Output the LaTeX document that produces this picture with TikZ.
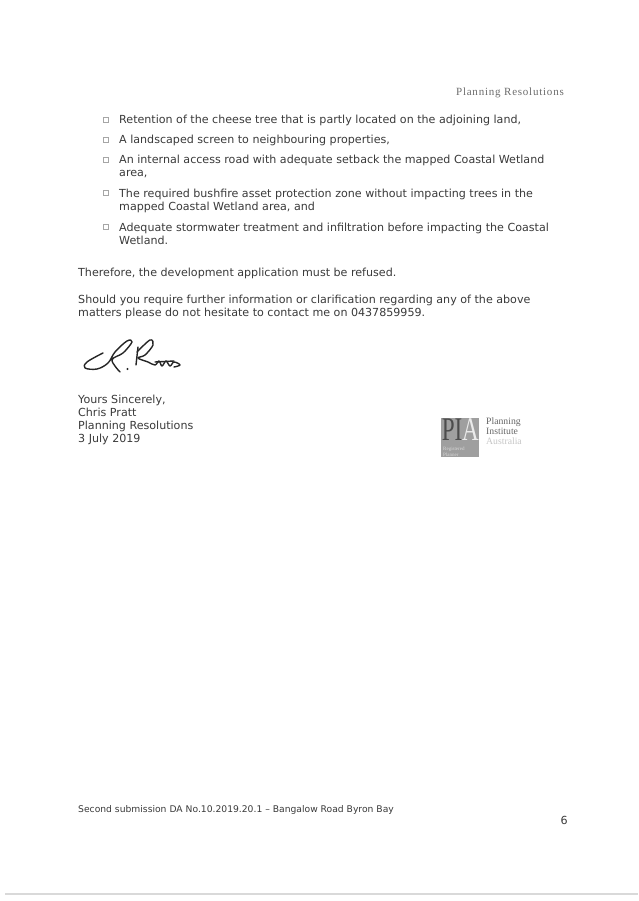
\documentclass[tikz,border=0pt]{standalone}
\usepackage{fontspec}
\setmainfont{DejaVu Sans}
\newfontfamily\logofont{Liberation Serif}
\newfontfamily\headfont[LetterSpace=7]{Liberation Serif}
\usetikzlibrary{positioning}
\definecolor{inkgray}{HTML}{3A3A3A}
\tikzstyle{letter} = [anchor=base west, inner sep=0pt, text=inkgray, align=left, font=\fontsize{11.1}{13}\selectfont]
\tikzstyle{tick} = [rectangle, draw=gray!70, minimum width=5pt, minimum height=5pt, inner sep=0pt, line width=0.6pt]
\tikzstyle{small} = [anchor=base west, inner sep=0pt, text=inkgray, font=\fontsize{9.2}{11}\selectfont]
\tikzstyle{serifgray} = [anchor=base west, inner sep=0pt, text=gray!80!black, font=\logofont\fontsize{9.7}{10}\selectfont, align=left]
\tikzstyle{biglogo} = [anchor=base west, inner sep=0pt, transform shape, font=\logofont\fontsize{33}{33}\selectfont]
\tikzstyle{sign} = [line width=1.4pt, black!85, line cap=round, line join=round]

\begin{document}
\begin{tikzpicture}[x=1pt, y=-1pt, node distance=8pt]
\useasboundingbox (0,0) rectangle (638,901);
\fill[white] (0,0) rectangle (638,901);

% Header
\node (head) [anchor=base east, inner sep=0pt, text=gray!85!black, font=\headfont\fontsize{11}{12}\selectfont] at (564,96) {Planning Resolutions};

% List
\node (item1) [letter] at (119,124) {Retention of the cheese tree that is partly located on the adjoining land,};
\node (item2) [letter] at (119,144) {A landscaped screen to neighbouring properties,};
\node (item3) [letter] at (119,177) {An internal access road with adequate setback the mapped Coastal Wetland\\ area,};
\node (item4) [letter] at (119,210.5) {The required bushfire asset protection zone without impacting trees in the\\ mapped Coastal Wetland area, and};
\node (item5) [letter] at (119,244.5) {Adequate stormwater treatment and infiltration before impacting the Coastal\\ Wetland.};

% Ticks
\node (tick1) [tick] at (106,120) {};
\node (tick2) [tick] at (106,140) {};
\node (tick3) [tick] at (106,160) {};
\node (tick4) [tick] at (106,193) {};
\node (tick5) [tick] at (106,227) {};

% Closing text
\node (refuse) [letter] at (78,276) {Therefore, the development application must be refused.};
\node (contact) [letter] at (78,316) {Should you require further information or clarification regarding any of the above\\ matters please do not hesitate to contact me on 0437859959.};

% Signature
\draw [sign] plot[smooth, tension=0.6] coordinates {(103,353) (87,362) (85,368) (97,369) (108,363) (115,352) (127,341) (132,342) (123,353) (112,360) (120,372)};
\fill [black!85] (127.5,369) circle (1.2pt);
\draw [sign] plot[smooth, tension=0.6] coordinates {(138,347) (136,365)};
\draw [sign] plot[smooth, tension=0.6] coordinates {(137,352) (150,340) (153,345) (145,355) (138,358) (148,362) (155,365) (159,361) (162,366) (166,361) (170,366) (174,362) (180,365) (174,367)};
\draw [sign] (155,362) -- (174,361);

% Sender
\node (sender) [letter] at (78,442) {Yours Sincerely,\\ Chris Pratt\\ Planning Resolutions\\ 3 July 2019};

% Logo
\node (badge) [rectangle, fill=gray!75, minimum width=38pt, minimum height=39pt, inner sep=0pt] at (460,437.5) {};
\begin{scope}[xscale=0.7]
\node (pi) [biglogo, text=black!70] at (631,440) {PI};
\node (aa) [biglogo, text=white!92!black] at (660,440) {A};
\end{scope}
\node (badgetext) [anchor=base west, inner sep=0pt, text=white!85!black, align=left, font=\logofont\fontsize{5}{6}\selectfont] at (443,456) {Registered\\ Planner};
\node (pia1) [serifgray] at (486,434) {Planning\\ Institute};
\node (pia2) [serifgray, text=gray!45] at (486,444) {Australia};

% Footer
\node (foot) [small] at (78,812.5) {Second submission DA No.10.2019.20.1 -- Bangalow Road Byron Bay};
\node (page) [letter, anchor=base east] at (568,824) {6};

% Bottom edge
\coordinate (edgeL) at (5,894);
\coordinate (edgeR) at (638,894);
\draw [line width=1.5pt, gray!30] (edgeL) -- (edgeR);

\end{tikzpicture}
\end{document}
